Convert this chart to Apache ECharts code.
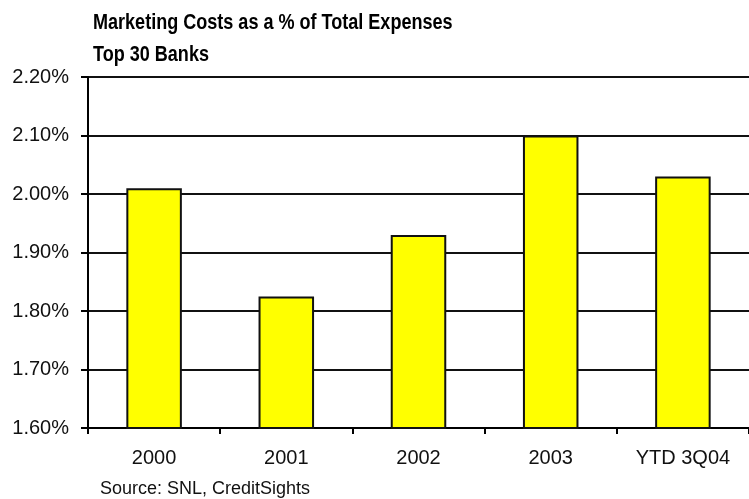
<!DOCTYPE html>
<html>
<head>
<meta charset="utf-8">
<title>Marketing Costs as a % of Total Expenses</title>
<script src="https://cdn.jsdelivr.net/npm/echarts@6/dist/echarts.min.js"></script>
<style>
  html, body { margin: 0; padding: 0; background: #fff; }
  #chart { width: 749px; height: 499px; }
</style>
</head>
<body>
<div id="chart"></div>
<script>
// Marketing spend as a share of total expenses, top 30 banks
var categories = ['2000', '2001', '2002', '2003', 'YTD 3Q04'];
var marketingPct = [2.01, 1.825, 1.93, 2.10, 2.03];

var titleLines = ['Marketing Costs as a % of Total Expenses', 'Top 30 Banks'];
var sourceNote = 'Source: SNL, CreditSights';

var yMin = 1.6, yMax = 2.2, yStep = 0.1;

var chart = echarts.init(document.getElementById('chart'), null, { renderer: 'canvas' });

var labelFont = 'Liberation Sans, Arial, sans-serif';
var titleFont = 'bold 22px Liberation Sans, Arial, sans-serif';

chart.setOption({
  animation: false,
  backgroundColor: '#ffffff',
  grid: { left: 88, right: -4, top: 77, bottom: 71, containLabel: false },
  graphic: [
    {
      type: 'text', left: 93, top: 12, scaleX: 0.82, originX: 0,
      style: { text: titleLines[0], font: titleFont, fill: '#000' }
    },
    {
      type: 'text', left: 93, top: 44, scaleX: 0.82, originX: 0,
      style: { text: titleLines[1], font: titleFont, fill: '#000' }
    },
    {
      type: 'text', left: 100, top: 480,
      style: { text: sourceNote, font: '18px Liberation Sans, Arial, sans-serif', fill: '#111' }
    }
  ],
  xAxis: {
    type: 'category',
    data: categories,
    boundaryGap: true,
    axisLine: { show: true, lineStyle: { color: '#000', width: 2 } },
    axisTick: { show: true, length: 6, lineStyle: { color: '#000', width: 2 } },
    axisLabel: { color: '#111', fontFamily: labelFont, fontSize: 20, margin: 20 },
    splitLine: { show: false }
  },
  yAxis: {
    type: 'value',
    min: yMin, max: yMax, interval: yStep,
    axisLine: { show: true, lineStyle: { color: '#000', width: 2 } },
    axisTick: { show: true, length: 7, lineStyle: { color: '#000', width: 2 } },
    axisLabel: {
      color: '#111', fontFamily: labelFont, fontSize: 20, margin: 19,
      formatter: function (v) { return v.toFixed(2) + '%'; }
    },
    splitLine: { show: true, lineStyle: { color: '#111', width: 2 } }
  },
  series: [{
    type: 'bar',
    data: marketingPct,
    barWidth: '42%',
    itemStyle: { color: '#ffff00', borderColor: '#111', borderWidth: 2 }
  }]
});
</script>
</body>
</html>
